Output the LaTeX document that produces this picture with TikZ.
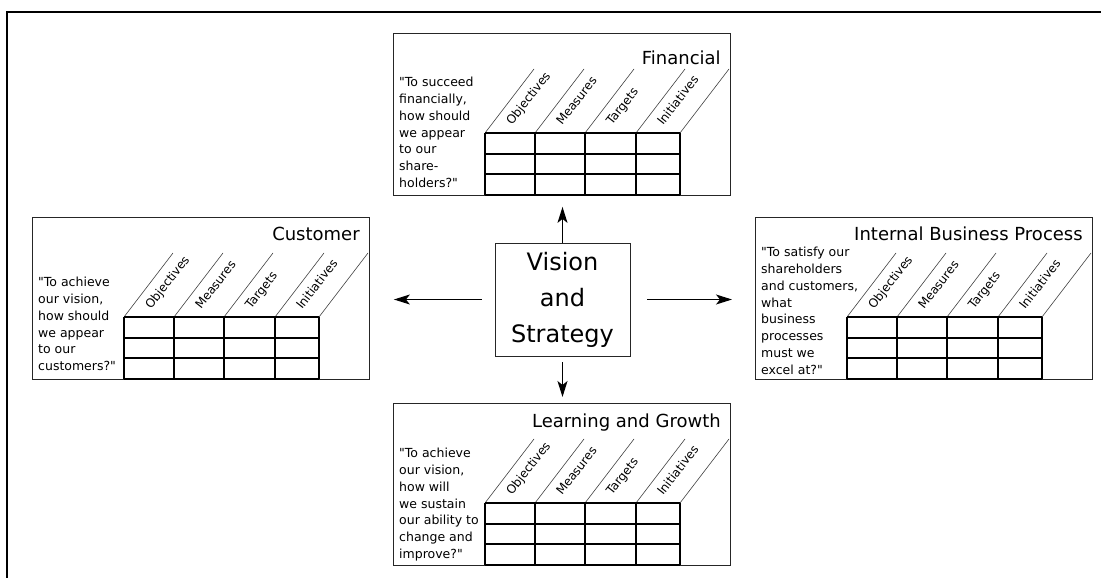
\documentclass[tikz,border=0pt]{standalone}
\usepackage{fontspec}
\setmainfont{DejaVu Sans}[Ligatures=TeXOff]
\usetikzlibrary{arrows.meta,calc,positioning}

\tikzset{
  card/.style={draw=black!85, line width=0.9pt, minimum width=337pt, minimum height=162pt, anchor=north west, inner sep=0pt},
  cardtitle/.style={anchor=base east, inner sep=0pt, font=\fontsize{18}{22}\selectfont},
  question/.style={anchor=north west, inner sep=0pt, align=left, font=\fontsize{12.5}{16.8}\selectfont},
  colhead/.style={anchor=base west, inner sep=0pt, rotate=52, font=\fontsize{12}{14}\selectfont},
  grid/.style={line width=1.2pt},
  slant/.style={line width=0.6pt, black!75},
  link/.style={-{Stealth[length=16pt,width=10pt,inset=4pt]}, line width=1.1pt},
}

% one perspective card: name, title, title drop, question, question drop
\newcommand\perspective[5]{%
  \node[cardtitle] (#1-title) at ($(#1.north east)+(-10,#3)$) {#2};
  \node[question] (#1-q) at ($(#1.north west)+(6,#5)$) {#4};
  \begin{scope}[shift={(#1.north west)}]
    \foreach \cx in {92,142,192,243,287} {
      \draw[grid] (\cx,100) -- (\cx,162);
      \draw[slant] (\cx,100) -- ++(49,-64);
    }
    \foreach \ry in {100,121,141,162}
      \draw[grid] (92,\ry) -- (287,\ry);
    \foreach \cx/\lab in {92/Objectives,142/Measures,192/Targets,243/Initiatives}
      \node[colhead] (#1-\cx) at (\cx+27,93) {\lab};
  \end{scope}
}

\begin{document}
\begin{tikzpicture}[x=1pt,y=-1pt]
  \useasboundingbox (0,0) rectangle (1101,578);
  \draw[line width=2pt] (1101,12) -| (7,578);

  \node[card] (fin) at (393,33) {};
  \node[card] (cust) at (32,217) {};
  \node[card] (ibp) at (755,217) {};
  \node[card] (learn) at (393,403) {};

  \node[draw=black!85, line width=0.9pt, minimum width=135pt, minimum height=113pt,
        align=center, font=\fontsize{24}{36}\selectfont] (vis) at (562.5,299.5)
        {Vision\\and\\Strategy};

  \perspective{fin}{Financial}{32}{"To succeed\\financially,\\how should\\we appear\\to our\\share-\\holders?"}{44}
  \perspective{cust}{Customer}{23}{"To achieve\\our vision,\\how should\\we appear\\to our\\customers?"}{60}
  \perspective{ibp}{Internal Business Process}{23}{"To satisfy our\\shareholders\\and customers,\\what\\business\\processes\\must we\\excel at?"}{30}
  \perspective{learn}{Learning and Growth}{24}{"To achieve\\our vision,\\how will\\we sustain\\our ability to\\change and\\improve?"}{45}

  \draw[link, shorten >=11pt] (vis.north) -- (vis.north |- fin.south);
  \draw[link, shorten <=6pt, shorten >=6pt] (vis.south) -- (vis.south |- learn.north);
  \draw[link, shorten <=13pt, shorten >=24pt] (vis.west) -- (vis.west -| cust.east);
  \draw[link, shorten <=17pt, shorten >=23pt] (vis.east) -- (vis.east -| ibp.west);
\end{tikzpicture}
\end{document}
